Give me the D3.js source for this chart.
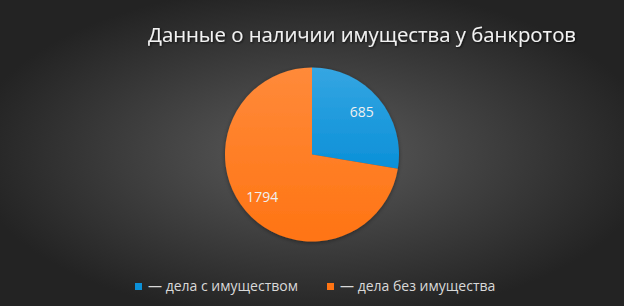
<!DOCTYPE html>
<html>
<head>
<meta charset="utf-8">
<script src="https://cdn.jsdelivr.net/npm/d3@7"></script>
<style>
  html, body { margin: 0; padding: 0; background: #262626; }
  svg { display: block; }
  text { font-family: "Open Sans", "DejaVu Sans", sans-serif; }
</style>
</head>
<body>
<div id="chart"></div>
<script>
const title = "Данные о наличии имущества у банкротов";
const categories = ["— дела с имуществом", "— дела без имущества"];
const values = [685, 1794];
const colors = ["#0b90d8", "#ff7413"];
const lightColors = ["#35a6e2", "#ff8a3a"];

const width = 624, height = 306;
const cx = 312, cy = 154.5, radius = 87;

const svg = d3.select("#chart").append("svg")
  .attr("width", width)
  .attr("height", height);

const defs = svg.append("defs");

// background radial gradient
const bg = defs.append("radialGradient")
  .attr("id", "bg")
  .attr("cx", 0.5).attr("cy", 0.5).attr("r", 0.55);
bg.append("stop").attr("offset", "0%").attr("stop-color", "#5c5c5c");
bg.append("stop").attr("offset", "100%").attr("stop-color", "#232323");

// slice gradients
colors.forEach((c, i) => {
  const g = defs.append("linearGradient")
    .attr("id", "slice" + i)
    .attr("x1", 0).attr("y1", 0).attr("x2", 0).attr("y2", 1);
  g.append("stop").attr("offset", "0%").attr("stop-color", lightColors[i]);
  g.append("stop").attr("offset", "100%").attr("stop-color", c);
});

// text shadow
const f = defs.append("filter").attr("id", "shadow")
  .attr("x", "-10%").attr("y", "-30%").attr("width", "120%").attr("height", "160%");
f.append("feDropShadow")
  .attr("dx", 1).attr("dy", 1).attr("stdDeviation", 1)
  .attr("flood-color", "#000").attr("flood-opacity", 0.7);

const pf = defs.append("filter").attr("id", "pieShadow")
  .attr("x", "-20%").attr("y", "-20%").attr("width", "140%").attr("height", "140%");
pf.append("feDropShadow")
  .attr("dx", 0).attr("dy", 1).attr("stdDeviation", 2)
  .attr("flood-color", "#000").attr("flood-opacity", 0.4);

svg.append("rect")
  .attr("width", width).attr("height", height)
  .attr("fill", "url(#bg)");

// title
svg.append("text")
  .attr("x", 362)
  .attr("y", 42)
  .attr("text-anchor", "middle")
  .attr("fill", "#f2f2f2")
  .attr("font-size", 20)
  .attr("font-weight", 500)
  .attr("textLength", 428)
  .attr("lengthAdjust", "spacingAndGlyphs")
  .attr("filter", "url(#shadow)")
  .text(title);

// pie
const pie = d3.pie().sort(null).value(d => d);
const arcs = pie(values);
const arc = d3.arc().innerRadius(0).outerRadius(radius);
const labelArc = d3.arc().innerRadius(radius * 0.75).outerRadius(radius * 0.75);

const g = svg.append("g")
  .attr("transform", "translate(" + cx + "," + cy + ")");

g.append("g").attr("filter", "url(#pieShadow)")
  .selectAll("path")
  .data(arcs)
  .enter()
  .append("path")
  .attr("d", arc)
  .attr("fill", (d, i) => "url(#slice" + i + ")");

g.selectAll(".lbl")
  .data(arcs)
  .enter()
  .append("text")
  .attr("class", "lbl")
  .attr("transform", d => "translate(" + labelArc.centroid(d) + ")")
  .attr("text-anchor", "middle")
  .attr("dy", "0.35em")
  .attr("fill", "#f0f0f0")
  .attr("font-size", 14)
  .text(d => d.data);

// legend
const legendX = [135, 327];
const legend = svg.append("g");
categories.forEach((name, i) => {
  legend.append("rect")
    .attr("x", legendX[i]).attr("y", 283)
    .attr("width", 7).attr("height", 7)
    .attr("fill", colors[i]);
  legend.append("text")
    .attr("x", legendX[i] + 13)
    .attr("y", 291)
    .attr("fill", "#d9d9d9")
    .attr("font-size", 14)
    .text(name);
});
</script>
</body>
</html>
